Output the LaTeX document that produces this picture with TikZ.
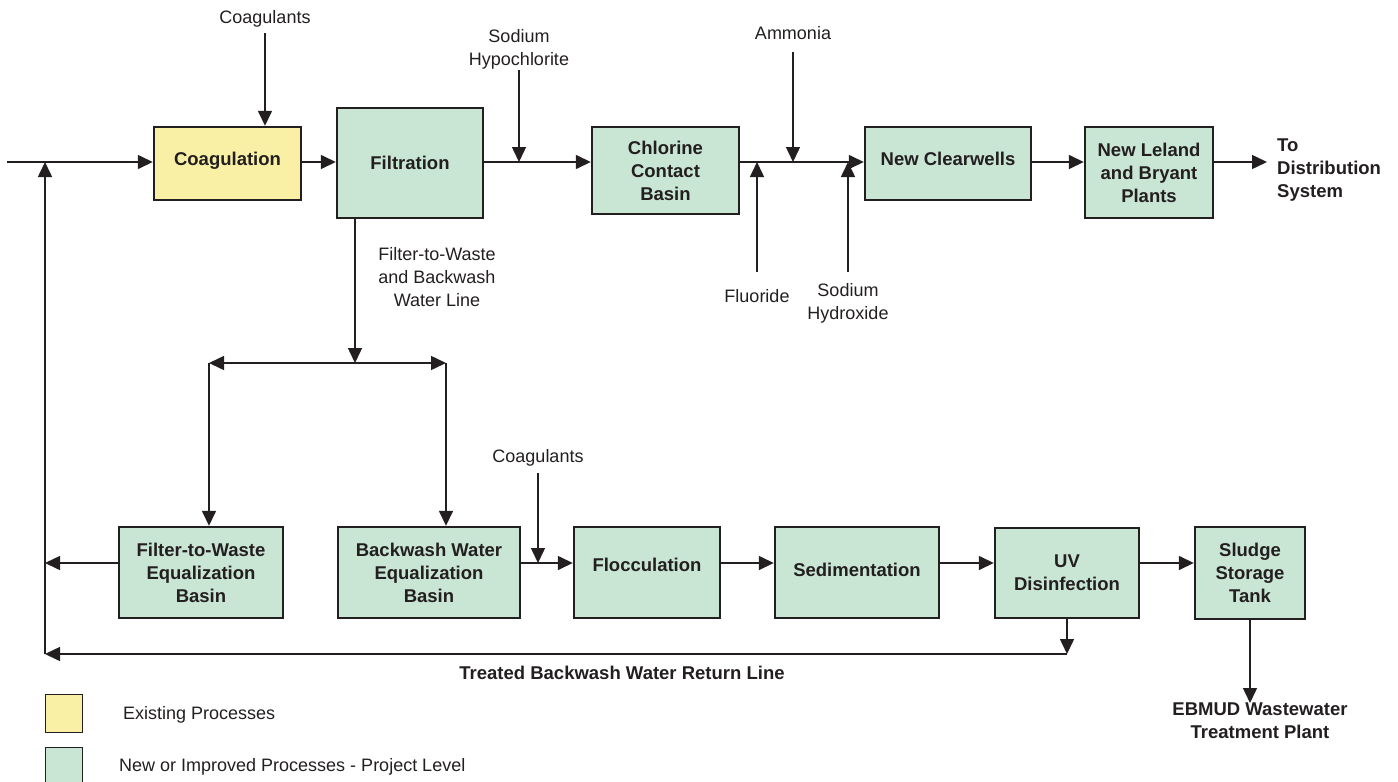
\documentclass[tikz,border=0pt]{standalone}
\usepackage{fontspec}
\setmainfont{Liberation Sans}
\usetikzlibrary{arrows.meta}
\definecolor{ink}{HTML}{231F20}
\definecolor{newgreen}{HTML}{C9E5D4}
\definecolor{oldyellow}{HTML}{F9F0A6}
\begin{document}
\begin{tikzpicture}[x=1pt,y=-1pt,
  proc/.style={draw=ink,line width=2.4pt,fill=newgreen,align=center,inner sep=0pt,
    font=\fontsize{18.5}{23}\selectfont\bfseries,text=ink},
  existing/.style={proc,fill=oldyellow},
  flow/.style={draw=ink,line width=1.5pt,-{Triangle[length=15pt,width=14pt]}},
  chem/.style={font=\fontsize{18}{23}\selectfont,text=ink,inner sep=0pt,align=center},
  note/.style={font=\fontsize{18.5}{23}\selectfont\bfseries,text=ink,inner sep=0pt,align=center},
  key/.style={draw=ink,line width=1pt,inner sep=0pt,minimum width=37pt},
]
\useasboundingbox (0,0) rectangle (1398,782);

% reference levels of the two process trains
\coordinate (m) at (0,162);
\coordinate (low) at (0,563);
\coordinate (src) at (7,162);
\coordinate (split) at (355,363);
\coordinate (spL) at (209,363);
\coordinate (spR) at (446,363);
\coordinate (retB) at (45,654);

% ---- treatment train ----
\node[existing,minimum width=147pt,minimum height=73pt,text depth=9pt] (coag) at (227.5,163.5) {Coagulation};
\node[proc,minimum width=146pt,minimum height=110pt] (filt) at (410,163) {Filtration};
\node[proc,minimum width=147pt,minimum height=87pt] (chlor) at (665.5,170.5) {Chlorine\\Contact\\Basin};
\node[proc,minimum width=166pt,minimum height=73pt,text depth=10pt] (clear) at (948,163.5) {New Clearwells};
\node[proc,minimum width=128pt,minimum height=91pt] (leland) at (1149,172.5) {New Leland\\and Bryant\\Plants};
\node[note,anchor=north west,align=left] (dist) at (1277,139) {To\\Distribution\\System};

% ---- backwash train ----
\node[proc,minimum width=164pt,minimum height=91pt] (ftw) at (201,572.5) {Filter-to-Waste\\Equalization\\Basin};
\node[proc,minimum width=182pt,minimum height=91pt] (bw) at (429,572.5) {Backwash Water\\Equalization\\Basin};
\node[proc,minimum width=146pt,minimum height=91pt,text depth=16pt] (floc) at (647,572.5) {Flocculation};
\node[proc,minimum width=164pt,minimum height=91pt,text depth=5pt] (sed) at (857,572.5) {Sedimentation};
\node[proc,minimum width=144pt,minimum height=90pt] (uv) at (1067,573) {UV\\Disinfection};
\node[proc,minimum width=110pt,minimum height=92pt] (sludge) at (1250,573) {Sludge\\Storage\\Tank};

% ---- chemical feeds and labels ----
\node[chem,anchor=south] (coagT) at (265,27) {Coagulants};
\node[chem,anchor=south] (naocl) at (519,69) {Sodium\\Hypochlorite};
\node[chem,anchor=south] (nh3) at (793,40) {Ammonia};
\node[chem,anchor=north] (fluor) at (757,289) {Fluoride};
\node[chem,anchor=north] (naoh) at (848,283) {Sodium\\Hydroxide};
\node[chem,anchor=north] (ftwline) at (437,247) {Filter-to-Waste\\and Backwash\\Water Line};
\node[chem,anchor=south] (coagL) at (538,466) {Coagulants};
\node[note,anchor=base] (retlbl) at (622,679) {Treated Backwash Water Return Line};
\node[note,anchor=north] (ebmud) at (1260,703) {EBMUD Wastewater\\Treatment Plant};

% ---- main flow ----
\draw[flow] (src) -- (src -| coag.west);
\draw[flow] (coag.east |- m) -- (filt.west |- m);
\draw[flow] (filt.east |- m) -- (chlor.west |- m);
\draw[flow] (chlor.east |- m) -- (clear.west |- m);
\draw[flow] (clear.east |- m) -- (leland.west |- m);
\draw[flow] (leland.east |- m) -- ([xshift=-10pt]dist.west |- m);

\draw[flow,shorten <=6pt] (coagT.south) -- (coagT.south |- coag.north);
\draw[flow,shorten <=1pt] (naocl.south) -- (naocl.south |- m);
\draw[flow,shorten <=12pt] (nh3.south) -- (nh3.south |- m);
\draw[flow,shorten <=17pt] (fluor.north) -- (fluor.north |- m);
\draw[flow,shorten <=11pt] (naoh.north) -- (naoh.north |- m);

% ---- filter-to-waste and backwash water line ----
\draw[flow] (filt.south -| split) -- (split);
\draw[flow] (split) -- (spL);
\draw[flow] (split) -- (spR);
\draw[flow] (spL) -- (spL |- ftw.north);
\draw[flow] (spR) -- (spR |- bw.north);

% ---- backwash treatment ----
\draw[flow] (ftw.west |- low) -- (retB |- low);
\draw[flow] (bw.east |- low) -- (floc.west |- low);
\draw[flow,shorten <=7pt] (coagL.south) -- (coagL.south |- low);
\draw[flow] (floc.east |- low) -- (sed.west |- low);
\draw[flow] (sed.east |- low) -- (uv.west |- low);
\draw[flow] (uv.east |- low) -- (sludge.west |- low);
\draw[flow] (sludge.south) -- (sludge.south |- ebmud.north);

% ---- treated water return ----
\draw[flow] (uv.south) -- (uv.south |- retB);
\draw[flow] (uv.south |- retB) -- (retB);
\draw[flow] (retB) -- (retB |- m);

% ---- legend ----
\node[key,fill=oldyellow,minimum height=38pt] (keyold) at (63.5,713) {};
\node[chem,anchor=base west] (keyoldtxt) at (123,719) {Existing Processes};
\node[key,fill=newgreen,minimum height=43pt] (keynew) at (63.5,768.5) {};
\node[chem,anchor=base west] (keynewtxt) at (119,771) {New or Improved Processes - Project Level};
\end{tikzpicture}
\end{document}
